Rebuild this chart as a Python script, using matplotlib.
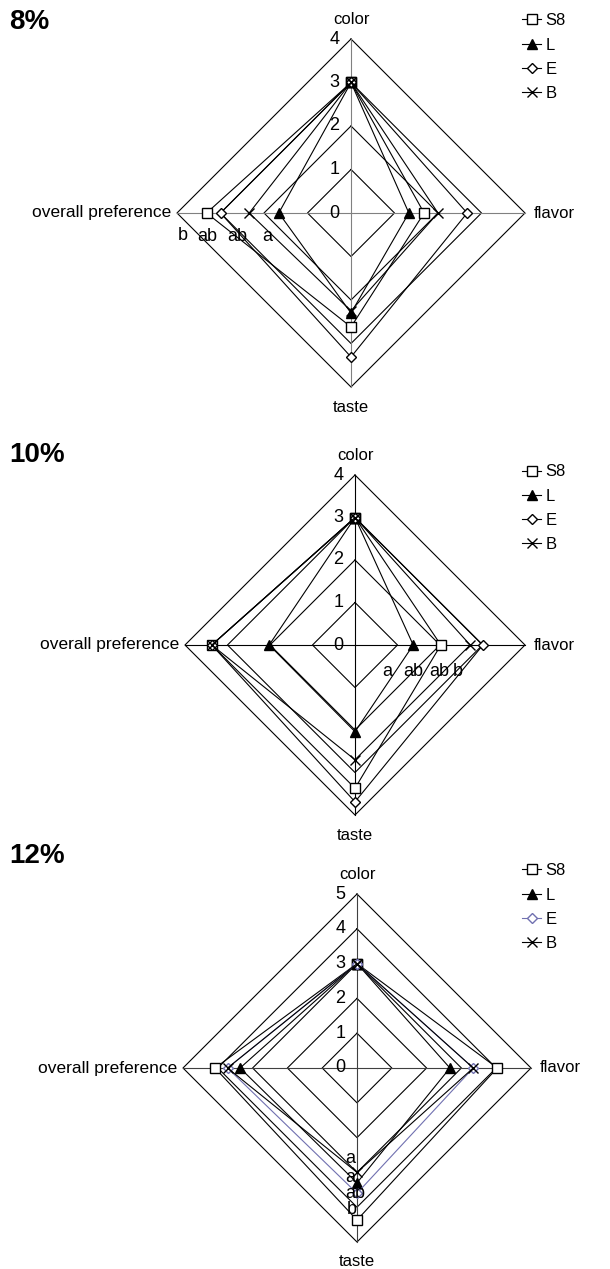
import numpy as np
import matplotlib
matplotlib.use("Agg")
import matplotlib.pyplot as plt
from matplotlib.lines import Line2D

plt.rcParams["font.family"] = ["Liberation Sans", "DejaVu Sans"]

W, H = 610, 1269

attributes = ["color", "flavor", "taste", "overall preference"]
samples = ["S8", "L", "E", "B"]

# 8 %
s8_8 = [3.0, 1.68, 2.62, 3.32]
l_8 = [3.0, 1.33, 2.30, 1.66]
e_8 = [3.0, 2.67, 3.31, 3.00]
b_8 = [3.0, 2.00, 2.25, 2.34]
letters_8 = ["b", "ab", "ab", "a"]

# 10 %
s8_10 = [3.0, 2.02, 3.37, 3.37]
l_10 = [3.0, 1.37, 2.04, 2.02]
e_10 = [3.0, 3.01, 3.69, 3.37]
b_10 = [3.0, 2.71, 2.70, 3.37]
letters_10 = ["a", "ab", "ab", "b"]

# 12 %
s8_12 = [3.0, 4.03, 4.37, 4.08]
l_12 = [3.0, 2.67, 3.30, 3.36]
e_12 = [3.0, 3.34, 3.60, 3.72]
b_12 = [3.0, 3.34, 3.00, 3.72]
letters_12 = ["a", "a", "ab", "b"]

# axis directions: color up, flavor right, taste down, overall preference left
dirs = np.array([[0, 1], [1, 0], [0, -1], [-1, 0]])

fig = plt.figure(figsize=(W / 100, H / 100), dpi=100)


def radar(cx, cy, unit, rmax, title, title_y, series, spoke_col, e_col,
          letters, letter_pos, leg_y):
    lim = rmax * 1.2
    half = lim * unit
    ax = fig.add_axes([(cx - half) / W, (H - cy - half) / H,
                       2 * half / W, 2 * half / H])
    ax.set_xlim(-lim, lim)
    ax.set_ylim(-lim, lim)
    ax.axis("off")

    # grid diamonds
    for r in range(1, rmax + 1):
        pts = np.vstack([dirs * r, dirs[:1] * r])
        ax.plot(pts[:, 0], pts[:, 1], color="black", lw=0.8, zorder=1)
    # spokes
    for d in dirs:
        ax.plot([0, d[0] * rmax], [0, d[1] * rmax], color=spoke_col, lw=0.8, zorder=1)
    # tick labels
    for r in range(0, rmax + 1):
        ax.annotate(str(r), (0, r), xytext=(-12, 0), textcoords="offset points",
                    ha="center", va="center", fontsize=13)

    # attribute labels
    ax.annotate(attributes[0], (0, rmax), xytext=(0, 9), textcoords="offset points",
                ha="center", va="bottom", fontsize=12)
    ax.annotate(attributes[1], (rmax, 0), xytext=(6, 0), textcoords="offset points",
                ha="left", va="center", fontsize=12)
    ax.annotate(attributes[2], (0, -rmax), xytext=(0, -9), textcoords="offset points",
                ha="center", va="top", fontsize=12)
    ax.annotate(attributes[3], (-rmax, 0), xytext=(-4, 0), textcoords="offset points",
                ha="right", va="center", fontsize=12.5)

    styles = [
        dict(marker="s", ms=7, mfc="white", mec="black", color="black"),
        dict(marker="^", ms=7, mfc="black", mec="black", color="black"),
        dict(marker="D", ms=5, mfc="white", mec=e_col, color=e_col),
        dict(marker="x", ms=7, mfc="none", mec="black", color="black"),
    ]
    handles = []
    for vals, st, name in zip(series, styles, samples):
        v = np.array(vals + vals[:1])
        d = np.vstack([dirs, dirs[:1]])
        ax.plot(v * d[:, 0], v * d[:, 1], lw=0.8, zorder=3, **st)
        handles.append(Line2D([], [], lw=0.8, label=name, **st))

    for lab, (x, y) in zip(letters, letter_pos):
        ax.text(x, y, lab, ha="center", va="center", fontsize=13, zorder=5)

    fig.text(9 / W, 1 - title_y / H, title, fontsize=20, fontweight="bold",
             ha="left", va="center")
    fig.legend(handles=handles, loc="upper left",
               bbox_to_anchor=(514 / W, 1 - leg_y / H), frameon=False,
               fontsize=12, handlelength=1.1, handletextpad=0.3,
               labelspacing=0.55, borderpad=0)


radar(351, 213, 43.5, 4, "8%", 22, [s8_8, l_8, e_8, b_8], "#808080", "black",
      letters_8, [(-3.86, -0.52), (-3.31, -0.55), (-2.62, -0.55), (-1.93, -0.55)], 5)
radar(355, 645, 42.5, 4, "10%", 455, [s8_10, l_10, e_10, b_10], "black", "black",
      letters_10, [(0.76, -0.63), (1.37, -0.63), (1.98, -0.63), (2.43, -0.63)], 456)
radar(357, 1068, 34.8, 5, "12%", 856, [s8_12, l_12, e_12, b_12], "#404040", "#7070b0",
      letters_12, [(-0.2, -2.59), (-0.2, -3.16), (-0.06, -3.6), (-0.15, -4.08)], 855)

fig.savefig("out.png", dpi=100)
